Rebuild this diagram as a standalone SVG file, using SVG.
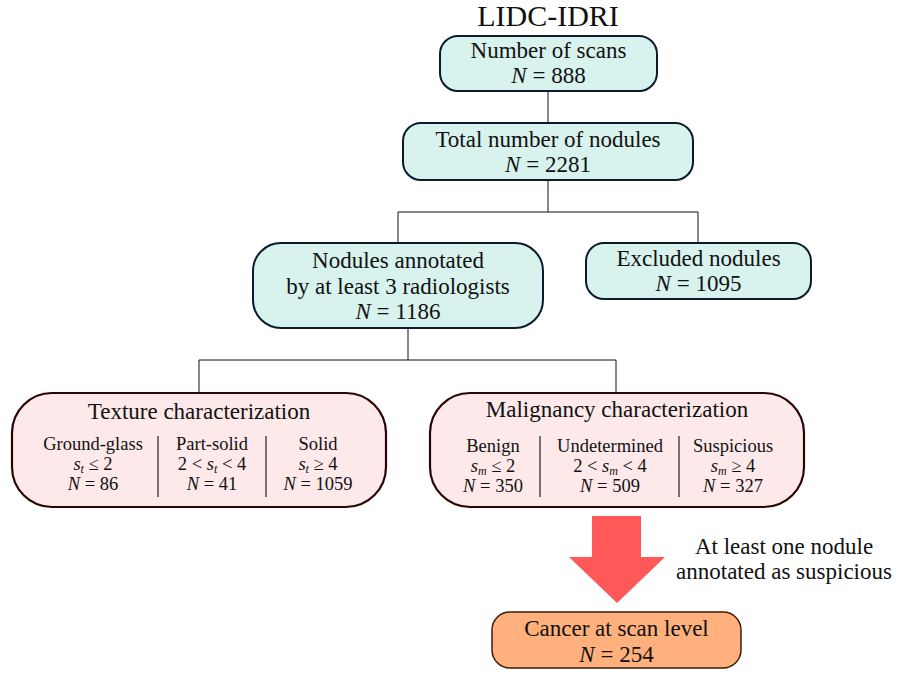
<svg xmlns="http://www.w3.org/2000/svg" width="897" height="675" viewBox="0 0 897 675">
  <style>
    text { font-family: "Liberation Serif", "DejaVu Serif", serif; fill: #111; text-anchor: middle; }
    .t { font-size: 23px; }
    .s { font-size: 18.5px; }
    .sub { font-size: 12px; font-style: italic; }
    .title { font-size: 30px; }
    .i { font-style: italic; }
    .teal { fill: #d8f2ed; stroke: #0b1a2e; stroke-width: 2; }
    .pink { fill: #fde9e9; stroke: #2b0505; stroke-width: 2.2; }
    .orange { fill: #ffb07c; stroke: #3b1e08; stroke-width: 1.5; }
    .conn { fill: none; stroke: #111; stroke-width: 1; }
    .div { stroke: #222; stroke-width: 1.2; }
  </style>

  <text class="title" x="548" y="26">LIDC-IDRI</text>

  <!-- connectors -->
  <g id="connectors">
    <path class="conn" d="M548,91 V123"/>
    <path class="conn" d="M548,180 V212 M398,243 V212 H698 V243"/>
    <path class="conn" d="M408,328 V360 M199,393 V360 H616 V393"/>
    <polygon id="arrow" fill="#ff5858" points="592,516 641,516 641,557 665,557 617,603 569,557 592,557"/>
  </g>

  <g id="scans">
    <rect class="teal" x="440" y="36" width="217" height="55" rx="18"/>
    <text class="t" x="548.5" y="58">Number of scans</text>
    <text class="t" x="548.5" y="83"><tspan class="i">N</tspan> = 888</text>
  </g>

  <g id="nodules">
    <rect class="teal" x="403" y="123" width="290" height="57" rx="18"/>
    <text class="t" x="548" y="147">Total number of nodules</text>
    <text class="t" x="548" y="172"><tspan class="i">N</tspan> = 2281</text>
  </g>

  <g id="annotated">
    <rect class="teal" x="253" y="243" width="290" height="85" rx="28"/>
    <text class="t" x="398" y="268">Nodules annotated</text>
    <text class="t" x="398" y="294">by at least 3 radiologists</text>
    <text class="t" x="398" y="319"><tspan class="i">N</tspan> = 1186</text>
  </g>

  <g id="excluded">
    <rect class="teal" x="586" y="243" width="225" height="56" rx="18"/>
    <text class="t" x="698.5" y="266">Excluded nodules</text>
    <text class="t" x="698.5" y="291"><tspan class="i">N</tspan> = 1095</text>
  </g>

  <g id="texture">
    <rect class="pink" x="12" y="393" width="374" height="114" rx="40"/>
    <text class="t" x="199" y="419">Texture characterization</text>
    <line class="div" x1="158" y1="436" x2="158" y2="497"/>
    <line class="div" x1="266" y1="436" x2="266" y2="497"/>
    <text class="s" x="93" y="450">Ground-glass</text>
    <text class="s" x="93" y="470"><tspan class="i">s</tspan><tspan class="sub" dy="2.5">t</tspan><tspan dy="-2.5"> ≤ 2</tspan></text>
    <text class="s" x="93" y="490"><tspan class="i">N</tspan> = 86</text>
    <text class="s" x="212" y="450">Part-solid</text>
    <text class="s" x="212" y="470">2 &lt; <tspan class="i">s</tspan><tspan class="sub" dy="2.5">t</tspan><tspan dy="-2.5"> &lt; 4</tspan></text>
    <text class="s" x="212" y="490"><tspan class="i">N</tspan> = 41</text>
    <text class="s" x="318" y="450">Solid</text>
    <text class="s" x="318" y="470"><tspan class="i">s</tspan><tspan class="sub" dy="2.5">t</tspan><tspan dy="-2.5"> ≥ 4</tspan></text>
    <text class="s" x="318" y="490"><tspan class="i">N</tspan> = 1059</text>
  </g>

  <g id="malignancy">
    <rect class="pink" x="430" y="393" width="374" height="114" rx="40"/>
    <text class="t" x="617" y="417">Malignancy characterization</text>
    <line class="div" x1="540" y1="436" x2="540" y2="497"/>
    <line class="div" x1="679" y1="436" x2="679" y2="497"/>
    <text class="s" x="493" y="452">Benign</text>
    <text class="s" x="493" y="472"><tspan class="i">s</tspan><tspan class="sub" dy="2.5">m</tspan><tspan dy="-2.5"> ≤ 2</tspan></text>
    <text class="s" x="493" y="492"><tspan class="i">N</tspan> = 350</text>
    <text class="s" x="610" y="452">Undetermined</text>
    <text class="s" x="610" y="472">2 &lt; <tspan class="i">s</tspan><tspan class="sub" dy="2.5">m</tspan><tspan dy="-2.5"> &lt; 4</tspan></text>
    <text class="s" x="610" y="492"><tspan class="i">N</tspan> = 509</text>
    <text class="s" x="733" y="452">Suspicious</text>
    <text class="s" x="733" y="472"><tspan class="i">s</tspan><tspan class="sub" dy="2.5">m</tspan><tspan dy="-2.5"> ≥ 4</tspan></text>
    <text class="s" x="733" y="492"><tspan class="i">N</tspan> = 327</text>
  </g>

  <g id="criterion">
    <text class="t" x="784" y="554">At least one nodule</text>
    <text class="t" x="784" y="579">annotated as suspicious</text>
  </g>

  <g id="cancer">
    <rect class="orange" x="492" y="612" width="249" height="56" rx="18"/>
    <text class="t" x="616.5" y="636">Cancer at scan level</text>
    <text class="t" x="616.5" y="662"><tspan class="i">N</tspan> = 254</text>
  </g>
</svg>
